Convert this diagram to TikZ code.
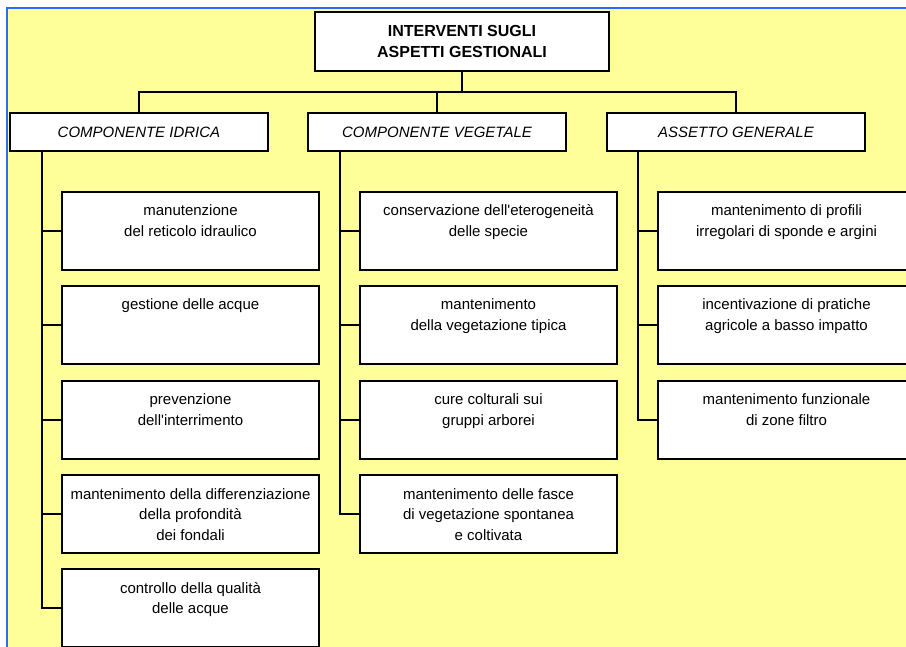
\documentclass[tikz,border=0pt]{standalone}
\usepackage{fontspec}
\setmainfont{Liberation Sans}
\definecolor{bgyellow}{HTML}{FFFF99}
\definecolor{frameblue}{HTML}{3366FF}
\newcommand\childtext[1]{\parbox[t][78pt][t]{257pt}{\centering\rule{0pt}{24pt}#1}}
\newcommand\apo{\textquotesingle}
\begin{document}
\begin{tikzpicture}[x=1pt,y=-1pt,
  every node/.style={inner sep=0pt, outer sep=0pt},
  box/.style={draw=black, line width=2pt, fill=white},
  titlebox/.style={box, minimum width=294pt, minimum height=59pt, align=center,
    font=\fontsize{16}{20.5}\selectfont\bfseries},
  catbox/.style={box, minimum width=258pt, minimum height=38pt,
    font=\fontsize{15}{18}\selectfont\itshape},
  childbox/.style={box, anchor=north west, minimum width=257pt, minimum height=78pt,
    font=\fontsize{15}{20.5}\selectfont},
  conn/.style={draw=black, line width=2pt},
]
\path[use as bounding box, clip] (0,0) rectangle (906,647);
\fill[white] (0,0) rectangle (906,647);
\fill[bgyellow] (7,8) rectangle (906,647);
\draw[frameblue, line width=2pt] (7,647) -- (7,8) -- (906,8);

% title
\node[titlebox] (top) at (462,41.5) {INTERVENTI SUGLI\\ASPETTI GESTIONALI};

% categories
\node[catbox] (idr) at (139,132) {COMPONENTE IDRICA};
\node[catbox] (veg) at (437,132) {COMPONENTE VEGETALE};
\node[catbox] (ass) at (736,132) {ASSETTO GENERALE};

% connectors to categories
\coordinate (bar) at (0,92);
\draw[conn] (top.south) -- (top.south |- bar);
\draw[conn] (idr.north) -- (idr.north |- bar) -- (ass.north |- bar) -- (ass.north);
\draw[conn] (veg.north) -- (veg.north |- bar);

% children: componente idrica
\node[childbox] (i1) at (62,192) {\childtext{manutenzione\\del reticolo idraulico}};
\node[childbox] (i2) at (62,286) {\childtext{gestione delle acque}};
\node[childbox] (i3) at (62,381) {\childtext{prevenzione\\dell\apo interrimento}};
\node[childbox] (i4) at (62,475) {\childtext{mantenimento della differenziazione\\della profondità\\dei fondali}};
\node[childbox] (i5) at (62,569) {\childtext{controllo della qualità\\delle acque}};

% children: componente vegetale
\node[childbox] (v1) at (360,192) {\childtext{conservazione dell\apo eterogeneità\\delle specie}};
\node[childbox] (v2) at (360,286) {\childtext{mantenimento\\della vegetazione tipica}};
\node[childbox] (v3) at (360,381) {\childtext{cure colturali sui\\gruppi arborei}};
\node[childbox] (v4) at (360,475) {\childtext{mantenimento delle fasce\\di vegetazione spontanea\\e coltivata}};

% children: assetto generale
\node[childbox] (a1) at (658,192) {\childtext{mantenimento di profili\\irregolari di sponde e argini}};
\node[childbox] (a2) at (658,286) {\childtext{incentivazione di pratiche\\agricole a basso impatto}};
\node[childbox] (a3) at (658,381) {\childtext{mantenimento funzionale\\di zone filtro}};

% spines
\coordinate (si) at ([xshift=32pt]idr.south west);
\coordinate (sv) at ([xshift=32pt]veg.south west);
\coordinate (sa) at ([xshift=31pt]ass.south west);
\draw[conn] (si) |- (i5.west);
\foreach \n in {1,2,3,4} \draw[conn] (si |- i\n.west) -- (i\n.west);
\draw[conn] (sv) |- (v4.west);
\foreach \n in {1,2,3} \draw[conn] (sv |- v\n.west) -- (v\n.west);
\draw[conn] (sa) |- (a3.west);
\foreach \n in {1,2} \draw[conn] (sa |- a\n.west) -- (a\n.west);
\end{tikzpicture}
\end{document}
